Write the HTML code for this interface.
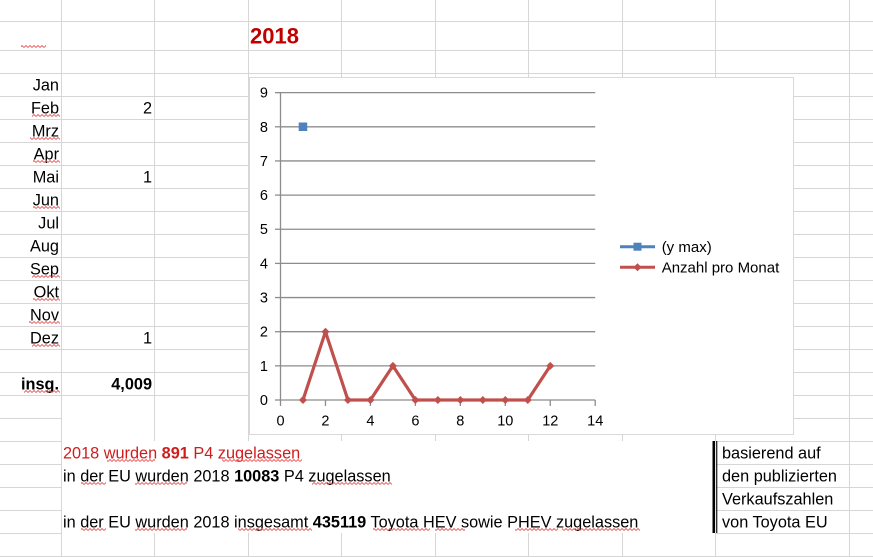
<!DOCTYPE html>
<html><head><meta charset="utf-8">
<style>
html,body{margin:0;padding:0;background:#fff;}
body{width:873px;height:557px;overflow:hidden;}
svg{display:block;}
.c{font-family:"Liberation Sans",Arial,sans-serif;font-size:16.3px;fill:#000;}
.ax{font-family:"Liberation Sans",Arial,sans-serif;font-size:14.5px;fill:#000;}
.lg{font-family:"Liberation Sans",Arial,sans-serif;font-size:15px;fill:#000;}
</style></head>
<body>
<svg width="873" height="557" viewBox="0 0 873 557" xmlns="http://www.w3.org/2000/svg">
<defs>
<pattern id="w" x="0" y="22" width="4" height="23" patternUnits="userSpaceOnUse">
<polyline points="0,2.5 2,0.5 4,2.5" fill="none" stroke="#e85a5a" stroke-width="0.9"/>
</pattern>
</defs>
<rect width="873" height="557" fill="#fff"/>
<!-- grid horizontal full -->
<g fill="#d6d6d6">
<rect x="0" y="21" width="873" height="1"/>
<rect x="0" y="50" width="873" height="1"/>
<rect x="0" y="73" width="873" height="1"/>
<rect x="0" y="96" width="873" height="1"/>
<rect x="0" y="119" width="873" height="1"/>
<rect x="0" y="142" width="873" height="1"/>
<rect x="0" y="165" width="873" height="1"/>
<rect x="0" y="188" width="873" height="1"/>
<rect x="0" y="211" width="873" height="1"/>
<rect x="0" y="234" width="873" height="1"/>
<rect x="0" y="257" width="873" height="1"/>
<rect x="0" y="280" width="873" height="1"/>
<rect x="0" y="303" width="873" height="1"/>
<rect x="0" y="326" width="873" height="1"/>
<rect x="0" y="349" width="873" height="1"/>
<rect x="0" y="372" width="873" height="1"/>
<rect x="0" y="395" width="873" height="1"/>
<rect x="0" y="556" width="873" height="1"/>
<!-- partial -->
<rect x="0" y="418" width="62" height="1"/><rect x="716" y="418" width="157" height="1"/>
<rect x="0" y="441" width="62" height="1"/><rect x="716" y="441" width="157" height="1"/>
<rect x="0" y="464" width="62" height="1"/><rect x="716" y="464" width="157" height="1"/>
<rect x="0" y="487" width="62" height="1"/><rect x="716" y="487" width="157" height="1"/>
<rect x="0" y="510" width="62" height="1"/><rect x="716" y="510" width="157" height="1"/>
<rect x="0" y="533" width="62" height="1"/><rect x="716" y="533" width="157" height="1"/>
<!-- vertical -->
<rect x="61" y="0" width="1" height="557"/>
<rect x="154" y="0" width="1" height="441"/><rect x="154" y="533" width="1" height="24"/>
<rect x="248" y="0" width="1" height="441"/><rect x="248" y="533" width="1" height="24"/>
<rect x="341" y="0" width="1" height="441"/><rect x="341" y="533" width="1" height="24"/>
<rect x="435" y="0" width="1" height="441"/><rect x="435" y="533" width="1" height="24"/>
<rect x="528" y="0" width="1" height="441"/><rect x="528" y="533" width="1" height="24"/>
<rect x="622" y="0" width="1" height="441"/><rect x="622" y="533" width="1" height="24"/>
<rect x="715" y="0" width="1" height="441"/><rect x="715" y="533" width="1" height="24"/>
<rect x="849" y="0" width="1" height="557"/>
</g>

<!-- title -->
<text x="250" y="43.5" font-family="'Liberation Sans',Arial,sans-serif" font-size="22" font-weight="bold" fill="#c00000">2018</text>
<rect x="21" y="45" width="25" height="3" fill="url(#w)"/>

<!-- column A months -->
<g class="c" text-anchor="end">
<text x="59" y="90.5">Jan</text>
<text x="59" y="113.5">Feb</text>
<text x="59" y="136.5">Mrz</text>
<text x="59" y="159.5">Apr</text>
<text x="59" y="182.5">Mai</text>
<text x="59" y="205.5">Jun</text>
<text x="59" y="228.5">Jul</text>
<text x="59" y="251.5">Aug</text>
<text x="59" y="274.5">Sep</text>
<text x="59" y="297.5">Okt</text>
<text x="59" y="320.5">Nov</text>
<text x="59" y="343.5">Dez</text>
<text x="59" y="389.5" font-weight="bold">insg.</text>
<text x="152" y="113.5">2</text>
<text x="152" y="182.5">1</text>
<text x="152" y="343.5">1</text>
<text x="152" y="389.5" font-weight="bold">4,009</text>
</g>
<g>
<rect x="32" y="114" width="28" height="3" fill="url(#w)"/>
<rect x="30" y="137" width="30" height="3" fill="url(#w)"/>
<rect x="33" y="160" width="27" height="3" fill="url(#w)"/>
<rect x="33" y="206" width="27" height="3" fill="url(#w)"/>
<rect x="32" y="275" width="28" height="3" fill="url(#w)"/>
<rect x="33" y="298" width="27" height="3" fill="url(#w)"/>
<rect x="29" y="321" width="31" height="3" fill="url(#w)"/>
<rect x="32" y="344" width="28" height="3" fill="url(#w)"/>
<rect x="24" y="390" width="36" height="3" fill="url(#w)"/>
</g>

<!-- chart box -->
<rect x="249.5" y="77.5" width="544" height="357" fill="#fff" stroke="#d9d9d9" stroke-width="1"/>

<!-- gridlines -->
<g stroke="#8c8c8c" stroke-width="1.3" fill="none">
<line x1="280.5" y1="92.65" x2="595.2" y2="92.65"/>
<line x1="280.5" y1="126.8" x2="595.2" y2="126.8"/>
<line x1="280.5" y1="160.95" x2="595.2" y2="160.95"/>
<line x1="280.5" y1="195.1" x2="595.2" y2="195.1"/>
<line x1="280.5" y1="229.25" x2="595.2" y2="229.25"/>
<line x1="280.5" y1="263.4" x2="595.2" y2="263.4"/>
<line x1="280.5" y1="297.55" x2="595.2" y2="297.55"/>
<line x1="280.5" y1="331.7" x2="595.2" y2="331.7"/>
<line x1="280.5" y1="365.85" x2="595.2" y2="365.85"/>
<!-- axes -->
<line x1="280.5" y1="92.65" x2="280.5" y2="400"/>
<line x1="280.5" y1="400" x2="595.2" y2="400"/>
<!-- y ticks -->
<line x1="275" y1="92.65" x2="280.5" y2="92.65"/>
<line x1="275" y1="126.8" x2="280.5" y2="126.8"/>
<line x1="275" y1="160.95" x2="280.5" y2="160.95"/>
<line x1="275" y1="195.1" x2="280.5" y2="195.1"/>
<line x1="275" y1="229.25" x2="280.5" y2="229.25"/>
<line x1="275" y1="263.4" x2="280.5" y2="263.4"/>
<line x1="275" y1="297.55" x2="280.5" y2="297.55"/>
<line x1="275" y1="331.7" x2="280.5" y2="331.7"/>
<line x1="275" y1="365.85" x2="280.5" y2="365.85"/>
<line x1="275" y1="400" x2="280.5" y2="400"/>
<!-- x ticks -->
<line x1="280.5" y1="400" x2="280.5" y2="406"/>
<line x1="325.46" y1="400" x2="325.46" y2="406"/>
<line x1="370.42" y1="400" x2="370.42" y2="406"/>
<line x1="415.38" y1="400" x2="415.38" y2="406"/>
<line x1="460.34" y1="400" x2="460.34" y2="406"/>
<line x1="505.3" y1="400" x2="505.3" y2="406"/>
<line x1="550.26" y1="400" x2="550.26" y2="406"/>
<line x1="595.2" y1="400" x2="595.2" y2="406"/>
</g>

<!-- y labels -->
<g class="ax" text-anchor="end">
<text x="268" y="97.6">9</text>
<text x="268" y="131.8">8</text>
<text x="268" y="165.9">7</text>
<text x="268" y="200.1">6</text>
<text x="268" y="234.2">5</text>
<text x="268" y="268.4">4</text>
<text x="268" y="302.5">3</text>
<text x="268" y="336.7">2</text>
<text x="268" y="370.8">1</text>
<text x="268" y="405">0</text>
</g>
<g class="ax" text-anchor="middle">
<text x="280.5" y="425.5">0</text>
<text x="325.46" y="425.5">2</text>
<text x="370.42" y="425.5">4</text>
<text x="415.38" y="425.5">6</text>
<text x="460.34" y="425.5">8</text>
<text x="505.3" y="425.5">10</text>
<text x="550.26" y="425.5">12</text>
<text x="595.2" y="425.5">14</text>
</g>

<!-- red series -->
<polyline points="302.98,400 325.46,331.7 347.94,400 370.42,400 392.9,365.85 415.38,400 437.86,400 460.34,400 482.82,400 505.3,400 527.78,400 550.26,365.85" fill="none" stroke="#c0504d" stroke-width="3.2" stroke-linejoin="round"/>
<g fill="#c0504d">
<path d="M302.98,396 L306.98,400 L302.98,404 L298.98,400 Z"/>
<path d="M325.46,327.7 L329.46,331.7 L325.46,335.7 L321.46,331.7 Z"/>
<path d="M347.94,396 L351.94,400 L347.94,404 L343.94,400 Z"/>
<path d="M370.42,396 L374.42,400 L370.42,404 L366.42,400 Z"/>
<path d="M392.9,361.85 L396.9,365.85 L392.9,369.85 L388.9,365.85 Z"/>
<path d="M415.38,396 L419.38,400 L415.38,404 L411.38,400 Z"/>
<path d="M437.86,396 L441.86,400 L437.86,404 L433.86,400 Z"/>
<path d="M460.34,396 L464.34,400 L460.34,404 L456.34,400 Z"/>
<path d="M482.82,396 L486.82,400 L482.82,404 L478.82,400 Z"/>
<path d="M505.3,396 L509.3,400 L505.3,404 L501.3,400 Z"/>
<path d="M527.78,396 L531.78,400 L527.78,404 L523.78,400 Z"/>
<path d="M550.26,361.85 L554.26,365.85 L550.26,369.85 L546.26,365.85 Z"/>
</g>
<!-- blue point -->
<rect x="298.7" y="122.5" width="8.5" height="8.5" fill="#4f81bd"/>

<!-- legend -->
<line x1="620" y1="246.7" x2="655" y2="246.7" stroke="#4f81bd" stroke-width="3"/>
<rect x="633.5" y="242.7" width="8" height="8" fill="#4f81bd"/>
<line x1="620" y1="267.3" x2="655" y2="267.3" stroke="#c0504d" stroke-width="3"/>
<path d="M637.5,263.3 L641.5,267.3 L637.5,271.3 L633.5,267.3 Z" fill="#c0504d"/>
<text class="lg" x="661.7" y="252">(y max)</text>
<text class="lg" x="661.7" y="272.5">Anzahl pro Monat</text>

<!-- bottom texts -->
<text class="c" x="63" y="458.5" style="fill:#d01c1c">2018 wurden <tspan font-weight="bold">891</tspan> P4 zugelassen</text>
<text class="c" x="63" y="481.5">in der EU wurden 2018 <tspan font-weight="bold">10083</tspan> P4 zugelassen</text>
<text class="c" x="63" y="527.5">in der EU wurden 2018 insgesamt <tspan font-weight="bold">435119</tspan> Toyota HEV sowie PHEV zugelassen</text>
<g>
<rect x="107" y="459" width="48" height="3" fill="url(#w)"/>
<rect x="222" y="459" width="80" height="3" fill="url(#w)"/>
<rect x="81" y="482" width="25" height="3" fill="url(#w)"/>
<rect x="135" y="482" width="52" height="3" fill="url(#w)"/>
<rect x="312" y="482" width="80" height="3" fill="url(#w)"/>
<rect x="81" y="528" width="25" height="3" fill="url(#w)"/>
<rect x="135" y="528" width="52" height="3" fill="url(#w)"/>
<rect x="238" y="528" width="74" height="3" fill="url(#w)"/>
<rect x="373" y="528" width="57" height="3" fill="url(#w)"/>
<rect x="435" y="528" width="30" height="3" fill="url(#w)"/>
<rect x="515" y="528" width="43" height="3" fill="url(#w)"/>
<rect x="562" y="528" width="78" height="3" fill="url(#w)"/>
</g>

<!-- right box -->
<rect x="712.5" y="441" width="2.6" height="92" fill="#000"/>
<rect x="716.2" y="441" width="1.1" height="92" fill="#000"/>
<text class="c" x="722" y="458.5">basierend auf</text>
<text class="c" x="722" y="481.5">den publizierten</text>
<text class="c" x="722" y="504.5">Verkaufszahlen</text>
<text class="c" x="722" y="527.5">von Toyota EU</text>
</svg>
</body></html>
